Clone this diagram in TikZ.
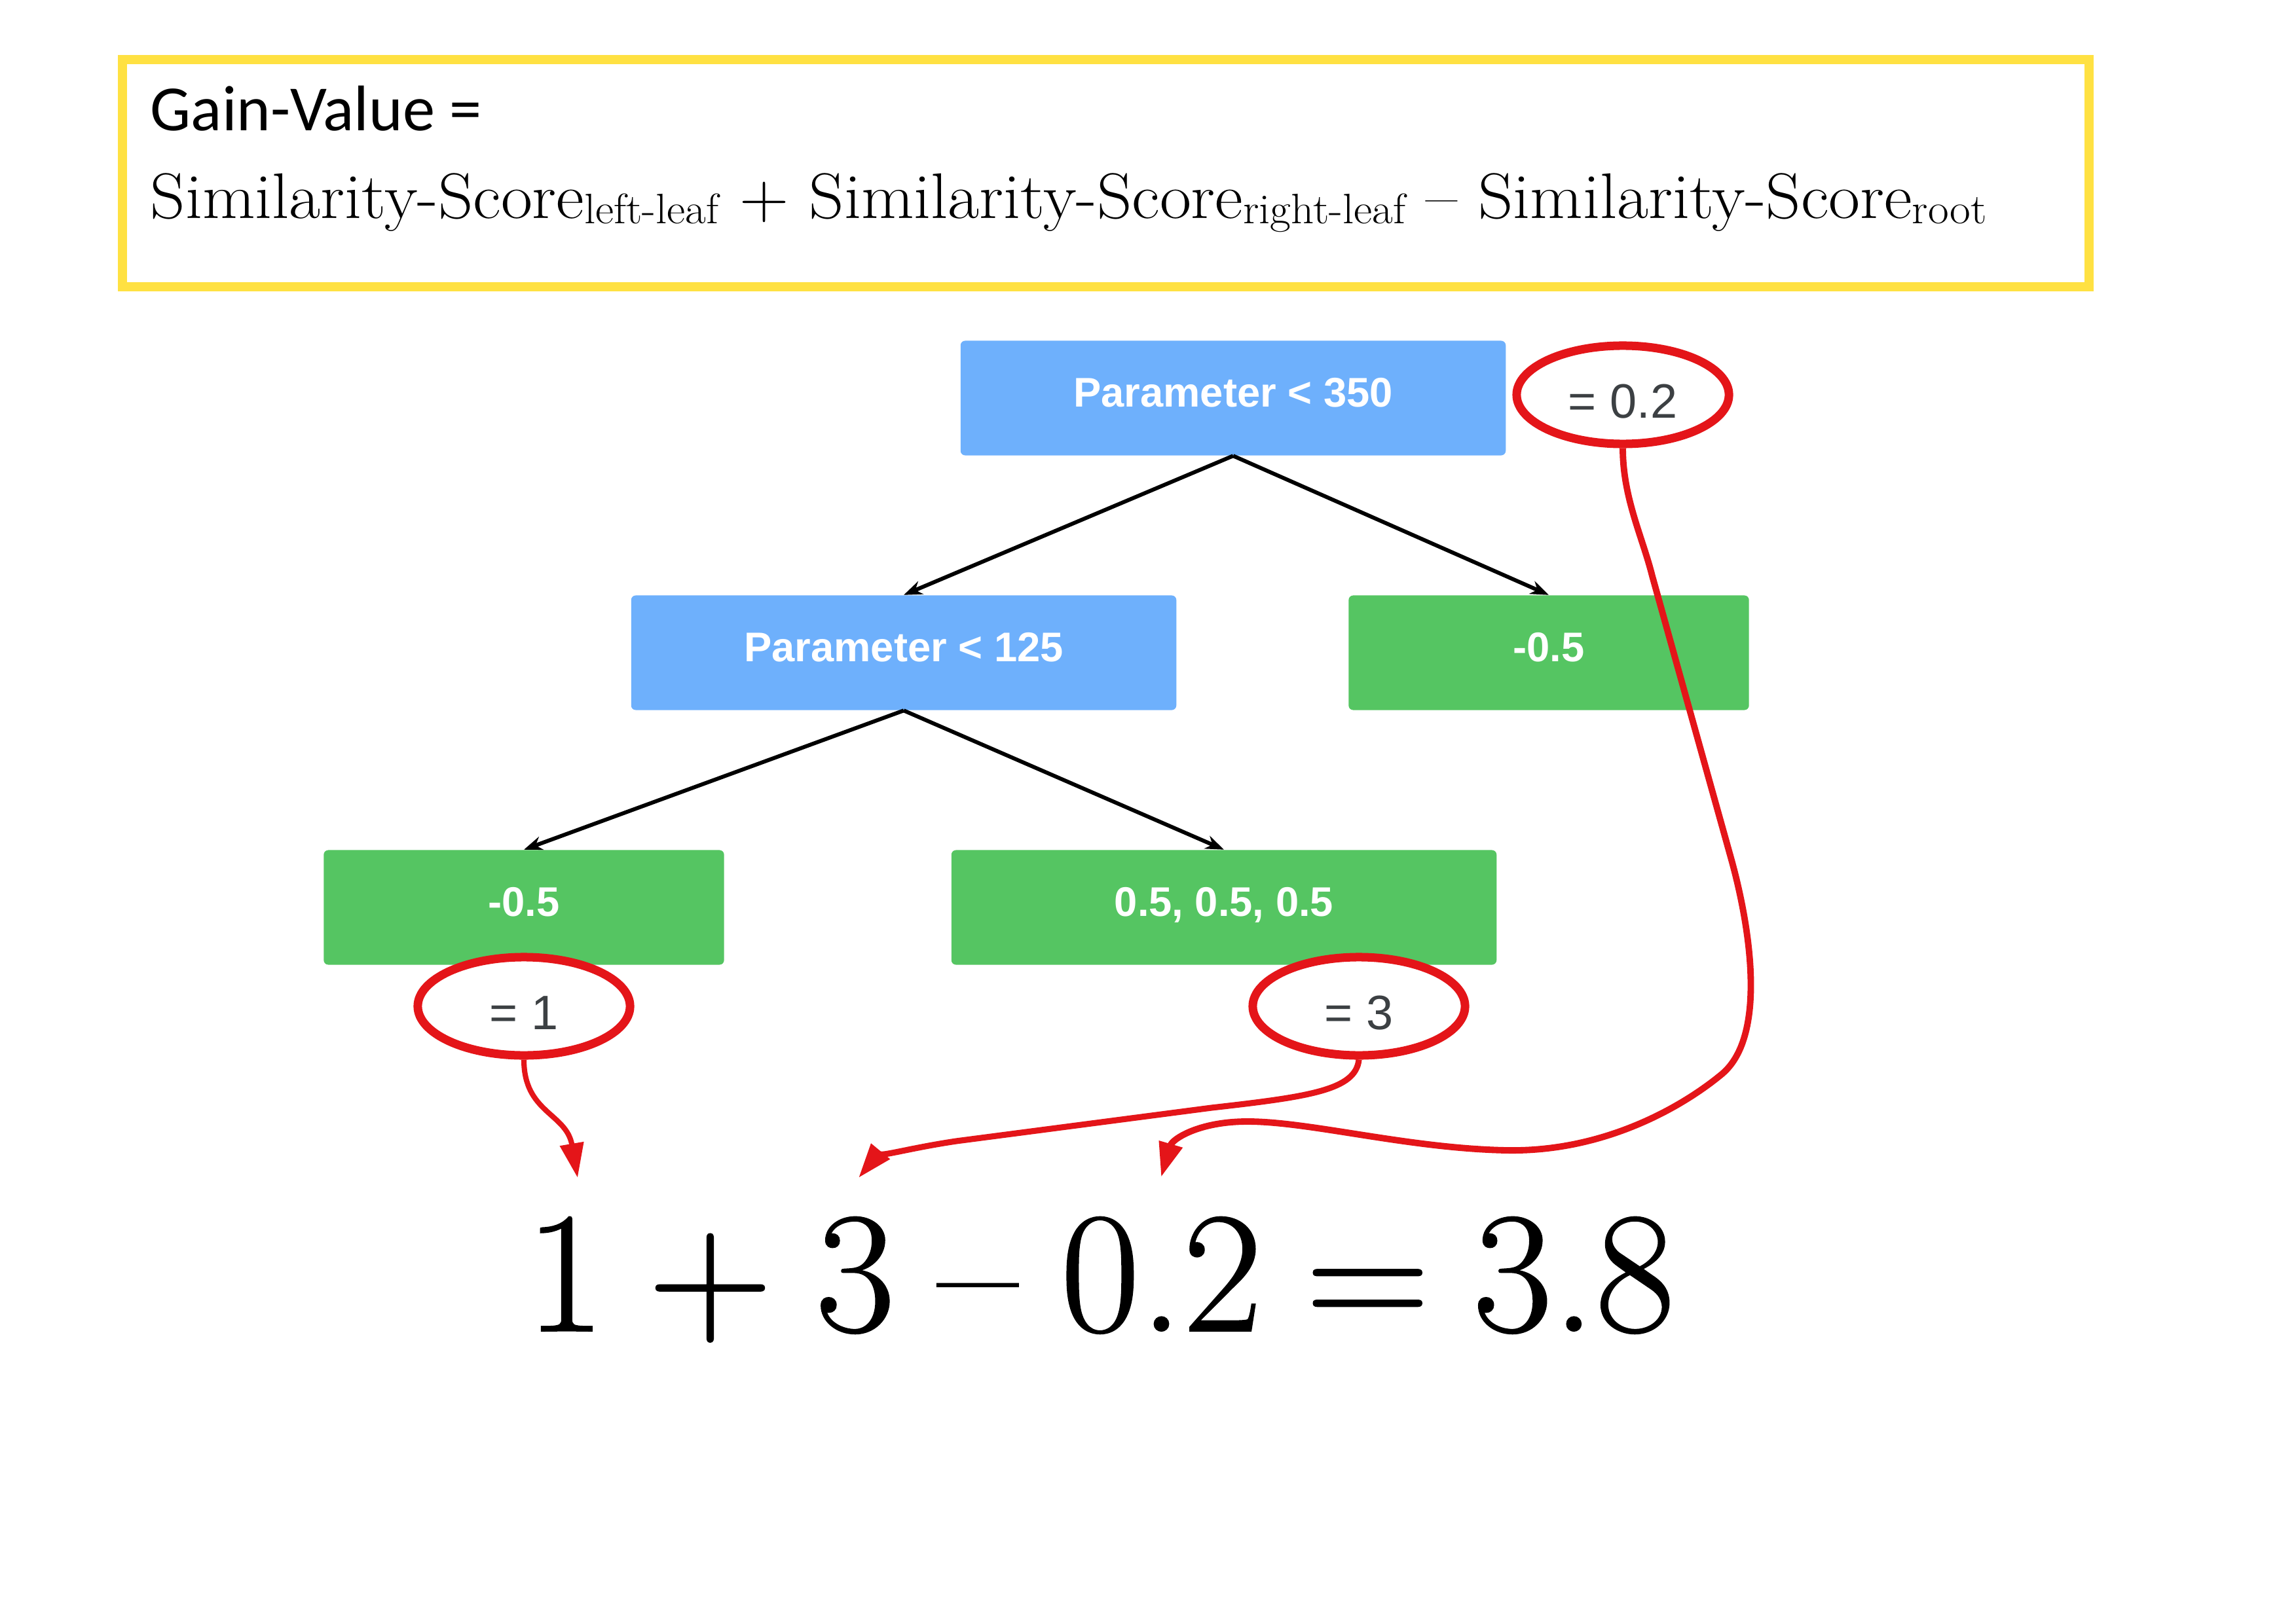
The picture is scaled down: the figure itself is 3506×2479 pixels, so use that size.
\documentclass[tikz,border=0pt]{standalone}
\usepackage{fontspec}
\newfontfamily\arialf{Liberation Sans}
\newfontfamily\calibf{Carlito}
\newfontfamily\wideserif[FakeStretch=1.06]{Latin Modern Roman}
\newfontfamily\eqserif[FakeBold=0.8]{Latin Modern Roman}
\usetikzlibrary{shapes.geometric,arrows.meta}
\definecolor{yel}{HTML}{FFE142}
\definecolor{blu}{HTML}{6EB0FC}
\definecolor{grn}{HTML}{55C562}
\definecolor{rd}{HTML}{E41519}
\definecolor{gtx}{HTML}{3C4043}
\newcommand\lowsub[1]{\raisebox{-2pt}{\fontsize{18.5}{20}\selectfont #1}}
\newcommand\eqgap{\hspace{0.25em}}
\begin{document}
\begin{tikzpicture}[x=0.01cm,y=-0.01cm,
  cond/.style={fill=blu, rounded corners=2pt, minimum width=8.32cm, minimum height=1.75cm,
    text=white, font=\arialf\bfseries\fontsize{18}{21}\selectfont, inner sep=0,
    text height=13.5pt, text depth=5.9pt},
  leaf/.style={cond, fill=grn},
  treeedge/.style={line width=1.7pt, -{Stealth[length=8pt,width=6pt]}},
  oval/.style={ellipse, draw=rd, line width=3.7pt, fill=white, minimum width=3.24cm,
    minimum height=1.5cm, inner sep=0, text=gtx, font=\arialf\fontsize{21}{24}\selectfont,
    text height=20pt, text depth=0pt},
  redarrow/.style={draw=rd, line width=2.6pt, -{Triangle[length=15pt,width=10pt]}}
]
\useasboundingbox[fill=white] (0,0) rectangle (3506,2479);
\draw[yel, line width=3.8pt] (187,91) rectangle (3190,438);
\node[anchor=base west, inner sep=0, font=\calibf\fontsize{28}{32}\selectfont] (gv) at (229,200) {Gain-Value =};
\node[anchor=base west, inner sep=0, font=\wideserif\fontsize{28}{32}\selectfont] (ss) at (229,334)
  {Similarity-Score\lowsub{left-leaf} + Similarity-Score\lowsub{right-leaf} – Similarity-Score\lowsub{root}};

\node[cond] (root) at (1883,608) {Parameter < 350};
\node[cond] (p125) at (1380,997) {Parameter < 125};
\node[leaf, minimum width=6.11cm] (lr) at (2365,997) {-0.5};
\node[leaf, minimum width=6.11cm] (ll) at (800,1386) {-0.5};
\node[leaf] (lm) at (1869,1386) {0.5, 0.5, 0.5};

\draw[treeedge] (root.south) -- (p125.north);
\draw[treeedge] (root.south) -- (lr.north);
\draw[treeedge] (p125.south) -- (ll.north);
\draw[treeedge] (p125.south) -- (lm.north);

\node[oval] (e02) at (2478,603) {= 0.2};
\node[oval] (e1) at (800,1537) {= 1};
\node[oval] (e3) at (2075,1537) {= 3};

\coordinate (t1) at (882,1799);
\coordinate (t3) at (1311,1799);
\coordinate (t02) at (1773,1798);

\draw[redarrow, line width=2.3pt] (e1.south) .. controls (800,1700) and (865,1700) .. (t1);
\draw[redarrow] (e3.south) .. controls (2070,1665) and (2000,1675) .. (1850,1692) -- (1460,1743)
  .. controls (1380,1755) and (1335,1770) .. (t3);
\draw[redarrow, line width=2.8pt] (e02.south) .. controls (2478,760) and (2508,820) .. (2523,880) -- (2643,1310)
  .. controls (2671,1410) and (2700,1580) .. (2630,1640)
  .. controls (2570,1690) and (2450,1760) .. (2300,1757)
  .. controls (2150,1754) and (2000,1713) .. (1905,1713)
  .. controls (1830,1713) and (1790,1740) .. (t02);

\node[anchor=base, inner sep=0, font=\eqserif\fontsize{75}{80}\selectfont] (eq) at (1680,2033)
  {1\eqgap+\eqgap3\eqgap–\eqgap0.2\eqgap=\eqgap3.8};
\end{tikzpicture}
\end{document}
